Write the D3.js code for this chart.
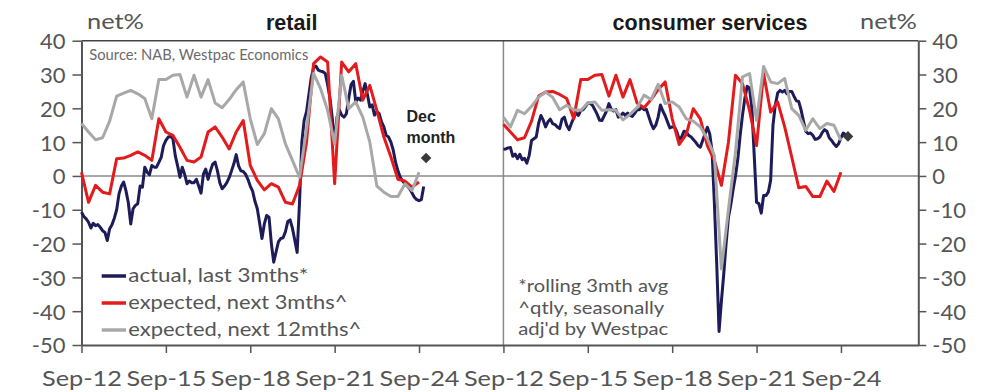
<!DOCTYPE html>
<html>
<head>
<meta charset="utf-8">
<script src="https://cdn.jsdelivr.net/npm/d3@7"></script>
<style>
  html, body { margin: 0; padding: 0; background: #ffffff; }
  svg { display: block; }
  text { font-family: "Lato", "Open Sans", sans-serif; }
</style>
</head>
<body>
<svg id="chart" width="998" height="392"></svg>
<script>
// Panel titles and axis labels
const panelTitles = ["retail", "consumer services"];
const yTicks = [40, 30, 20, 10, 0, -10, -20, -30, -40, -50];
const xTickLabels = ["Sep-12", "Sep-15", "Sep-18", "Sep-21", "Sep-24"];
const legendLabels = ["actual, last 3mths*", "expected, next 3mths^", "expected, next 12mths^"];
const noteLines = ["*rolling 3mth avg", "^qtly, seasonally", "adj'd by Westpac"];

// Retail: monthly actual (3mth avg) from Sep-12, quarterly expectations from Sep-12
const retailActual = [
  -10.7, -12, -12.7, -13.7, -15.4, -14, -14.7, -14.4, -15.2, -16.2, -16.7, -19.1,
  -15.6, -14.4, -12.5, -10, -5.3, -3, -1.8, -4.5, -8, -14.2, -9.7, -8.7,
  -8.2, -3, -3.3, 2.6, 1.1, 0.4, 3.1, 2.6, 2.6, 4, 5.5, 9,
  10.5, 11.5, 11.7, 11, 6, 3, -0.4, 2.6, 0.5, -2.3, -1.5, -2,
  -2, -1, -3, -5.1, 0.5, 2, -1, 1.5, 3.5, 4.1, 1.5, -2,
  -3.8, -3, -2, -0.5, 1.5, 3.6, 6.3, 3, 1.5, 1.3, 0.5, -1,
  -3, -4.5, -7.5, -9.7, -14, -18.5, -14.2, -11.7, -12.2, -20, -25.5, -22.5,
  -19.5, -18.5, -18.3, -16.5, -13.5, -13, -15.5, -19, -22.6, -8, 10, 16.5,
  19, 24, 29, 32, 32.5, 31.3, 31, 30.8, 30.3, 27, 23, 17,
  9.5, 17.4, 19.5, 18, 17.4, 18.4, 23, 27, 28, 21.9, 23, 22.4,
  25, 27.3, 24, 20.4, 21, 18, 19, 18.4, 16, 14.5, 12, 11.5,
  10, 7.6, 4, 1.5, -0.4, -1.5, -2.3, -3, -3.8, -5, -6.3, -7,
  -7.3, -7, -3.1
];
const retailExp3 = [
  1.1, -7.8, -2.8, -4.8, -5.3, 5.1, 5.3, 6.1, 7.1, 6.1, 4.6, 16.9,
  13, 12, 8.5, 4.6, 4.1, 5.6, 13, 14.5, 11.5, 8, 13, 16.4,
  3.1, -1.3, -4.1, -2.3, -3.3, -7.8, -8.3, -2.8, 10, 33.2, 35.2, 33.7,
  -2.3, 33.7, 30.8, 33.2, 22.4, 26.8, 19.4, 11.5, 5.6, -1, -1.5, -3.3,
  -1.8
];
const retailExp12 = [
  15.5, 13, 10.7, 11.3, 16.2, 23.6, 24.5, 25.3, 24.3, 22.9, 16.9, 28.5,
  28.5, 29.8, 30, 23.3, 29.8, 23.3, 28.5, 21.6, 20.2, 22.6, 25.5, 27.8,
  16.9, 9.3, 12.5, 19.9, 16.9, 9.5, 4.6, -0.4, 14, 30.3, 25.8, 19.4,
  9.5, 29.8, 19.9, 21.9, 17.4, 10, -3, -4.8, -6.1, -6.1, -2.3, -4.3,
  1.1
];
const retailDec = 5.3;

// Consumer services
const servActual = [
  7.9, 8, 8.3, 8.4, 5.8, 6.5, 5.1, 6.4, 4.8, 5.2, 3.8, 6.1,
  10.5, 11, 11.5, 15.5, 17.9, 16.5, 14.5, 16, 16.8, 15.5, 15.2, 14.5,
  14, 16.8, 17.4, 15, 13.7, 15.5, 17.2, 18.7, 17.9, 19.3, 19.6, 20.5,
  21.6, 21.5, 20.9, 19.6, 18.2, 16.5, 16.4, 17.8, 19.2, 21.4, 19.8, 19.2,
  19.6, 17.4, 17.8, 18.6, 17.9, 18.6, 18, 17.6, 18.5, 19.6, 19.6, 20.3,
  19.6, 19.7, 17.6, 15.5, 14, 15, 17.4, 21, 19.2, 17.8, 16, 14.2,
  14.5, 14.5, 13, 10.8, 11.5, 13.2, 13, 12, 11.6, 10.8, 10, 9,
  8.5, 10.5, 12.4, 14.4, 12.5, 7.5, -8, -26, -46, -37, -29, -20,
  -12.2, -8.5, -4, 0, 5, 12, 18, 23, 26.5, 26, 20, 6,
  -7.8, -8.2, -11, -5.8, -5.8, -4.8, -1.3, 15, 21, 24.5, 25.3, 24.8,
  25.3, 24.3, 25, 25, 23.5, 22.2, 22, 19.5, 16.2, 13.2, 12.5, 12.7,
  12, 10.8, 11, 11.5, 12.8, 13.7, 13.2, 11.3, 10.5, 9.5, 8.7, 9.5,
  11.3, 12.7, 12.2
];
const servExp3 = [
  15.3, 13, 10.7, 11.3, 16.2, 23.6, 24.8, 25, 24.1, 22.9, 16.9, 28.5,
  28.5, 29.8, 30, 23.6, 29.8, 23.3, 28.5, 21.6, 20.2, 22.6, 25.5, 27.8,
  16.9, 9.3, 12.3, 19.9, 16.9, 9, 4.6, -2.8, 10, 29.8, 27.3, 19.4,
  9, 30.3, 18.9, 21.9, 14.5, 5.6, -3.5, -3.1, -6.1, -6.1, -1.5, -4.6,
  1.1
];
const servExp12 = [
  17.4, 14.5, 19.4, 18.4, 20.6, 23.3, 24.8, 23.3, 19.6, 20.9, 19.6, 19.4,
  21.6, 21.9, 19.4, 19.6, 19.4, 16.6, 18.2, 20.2, 23.9, 22.6, 27.1, 21.4,
  21.9, 20.4, 16.9, 16.2, 14.5, 11, 6, -27.5, -10, 7, 29.3, 30.3,
  16.4, 32.4, 27.8, 27.3, 28.8, 19.9, 17.9, 13.5, 16.9, 14, 15.5, 15,
  10.5
];
const servDec = 11.7;

// Layout: both panels share one month-index axis; the second panel starts 180 months in
const PANEL_OFFSET = 180;
const TOTAL_MONTHS = 357;
const DEC_INDEX = 147;

const colNavy = "#1d1c58";
const colRed = "#e31b1d";
const colGray = "#a8a8a8";
const textCol = "#555555";

const svg = d3.select("#chart");
const x = d3.scaleLinear().domain([0, TOTAL_MONTHS]).range([81.5, 918.3]);
const y = d3.scaleLinear().domain([-50, 40]).range([345, 40.7]);

// Zero line and panel divider
svg.append("line")
  .attr("x1", x(0)).attr("x2", x(TOTAL_MONTHS))
  .attr("y1", y(0)).attr("y2", y(0))
  .attr("stroke", "#8a8a8a").attr("stroke-width", 1.5);
svg.append("line")
  .attr("x1", x(PANEL_OFFSET)).attr("x2", x(PANEL_OFFSET))
  .attr("y1", y(40)).attr("y2", y(-50))
  .attr("stroke", "#8a8a8a").attr("stroke-width", 1.5);

// Top frame
svg.append("line")
  .attr("x1", x(0)).attr("x2", x(TOTAL_MONTHS))
  .attr("y1", y(40)).attr("y2", y(40))
  .attr("stroke", "#444").attr("stroke-width", 1.5);

// Axes
const fmt = d => String(d);
const leftAxis = svg.append("g")
  .attr("transform", `translate(${x(0)},0)`)
  .call(d3.axisLeft(y).tickValues(yTicks).tickFormat(fmt).tickSize(9).tickSizeOuter(0).tickPadding(7));
const rightAxis = svg.append("g")
  .attr("transform", `translate(${x(TOTAL_MONTHS)},0)`)
  .call(d3.axisRight(y).tickValues(yTicks).tickFormat(fmt).tickSize(8).tickSizeOuter(0).tickPadding(6));

const xTickIdx = [];
const xTickText = new Map();
[0, PANEL_OFFSET].forEach(off => {
  xTickLabels.forEach((lab, k) => {
    xTickIdx.push(off + k * 36);
    xTickText.set(off + k * 36, lab);
  });
});
const bottomAxis = svg.append("g")
  .attr("transform", `translate(0,${y(-50)})`)
  .call(d3.axisBottom(x).tickValues(xTickIdx).tickFormat(d => xTickText.get(d) || "")
    .tickSize(8).tickSizeOuter(0));

[leftAxis, rightAxis, bottomAxis].forEach(g => {
  g.select(".domain").attr("stroke", "#555").attr("stroke-width", 2);
  g.selectAll(".tick line").attr("stroke", "#555").attr("stroke-width", 1.5);
  g.selectAll("text")
    .attr("fill", textCol)
    .style("font-family", "Lato, sans-serif")
    .style("font-size", "22px");
});
bottomAxis.selectAll("text")
  .attr("y", 386 - y(-50)).attr("dy", null)
  .attr("textLength", 80).attr("lengthAdjust", "spacingAndGlyphs");
leftAxis.selectAll("text").attr("dy", "0.36em");
rightAxis.selectAll("text").attr("dy", "0.36em");

// Series lines
const line = d3.line().x(d => x(d.i)).y(d => y(d.v)).curve(d3.curveLinear);
const monthly = (arr, off) => arr.map((v, k) => ({ i: off + k, v }));
const quarterly = (arr, off) => arr.map((v, k) => ({ i: off + 3 * k, v }));

const series = [
  { pts: monthly(retailActual, 0), color: colNavy },
  { pts: monthly(servActual, PANEL_OFFSET), color: colNavy },
  { pts: quarterly(retailExp3, 0), color: colRed },
  { pts: quarterly(servExp3, PANEL_OFFSET), color: colRed },
  { pts: quarterly(retailExp12, 0), color: colGray },
  { pts: quarterly(servExp12, PANEL_OFFSET), color: colGray }
];
svg.append("g").selectAll("path")
  .data(series)
  .join("path")
  .attr("d", d => line(d.pts))
  .attr("fill", "none")
  .attr("stroke", d => d.color)
  .attr("stroke-width", 3)
  .attr("stroke-linejoin", "round");

// Latest single-month readings
const decPoints = [
  { i: DEC_INDEX, v: retailDec },
  { i: PANEL_OFFSET + DEC_INDEX, v: servDec }
];
svg.append("g").selectAll("path")
  .data(decPoints)
  .join("path")
  .attr("d", d3.symbol(d3.symbolSquare, 56))
  .attr("transform", d => `translate(${x(d.i)},${y(d.v)}) rotate(45)`)
  .attr("fill", "#3a3a3a");

svg.append("text").attr("x", 406.5).attr("y", 121.7)
  .style("font-family", "'Liberation Sans', Arial, sans-serif")
  .style("font-size", "16px").style("font-weight", "bold").attr("fill", "#222")
  .text("Dec");
svg.append("text").attr("x", 406.5).attr("y", 142.7)
  .style("font-family", "'Liberation Sans', Arial, sans-serif")
  .style("font-size", "16px").style("font-weight", "bold").attr("fill", "#222")
  .text("month");

// Titles and units
svg.selectAll("text.title")
  .data([{ t: panelTitles[0], cx: 291.7 }, { t: panelTitles[1], cx: 710 }])
  .join("text")
  .attr("class", "title")
  .attr("x", d => d.cx).attr("y", 30)
  .attr("text-anchor", "middle")
  .style("font-family", "'Liberation Sans', Arial, sans-serif")
  .style("font-size", "21.5px").style("font-weight", "bold")
  .attr("fill", "#1a1a1a")
  .text(d => d.t);

[87, 860].forEach(xx => {
  svg.append("text").attr("x", xx).attr("y", 29)
    .style("font-size", "22px").attr("fill", textCol)
    .attr("textLength", 57).attr("lengthAdjust", "spacingAndGlyphs")
    .text("net%");
});

svg.append("text").attr("x", 89.3).attr("y", 60)
  .style("font-size", "14.5px").attr("fill", "#6a6a6a")
  .attr("textLength", 219).attr("lengthAdjust", "spacingAndGlyphs")
  .text("Source: NAB, Westpac Economics");

// Legend
const legendColors = [colNavy, colRed, colGray];
const legendWidths = [180, 219, 233];
const legend = svg.append("g");
legendLabels.forEach((lab, k) => {
  const yy = 276 + k * 27;
  legend.append("line")
    .attr("x1", 101.7).attr("x2", 126).attr("y1", yy).attr("y2", yy)
    .attr("stroke", legendColors[k]).attr("stroke-width", 3.5);
  legend.append("text")
    .attr("x", 128.3).attr("y", yy + 5.5)
    .style("font-size", "20px").attr("fill", textCol)
    .attr("textLength", legendWidths[k]).attr("lengthAdjust", "spacingAndGlyphs")
    .text(lab);
});

// Footnotes
const noteWidths = [150, 146, 150];
noteLines.forEach((t, k) => {
  svg.append("text")
    .attr("x", 518.3).attr("y", 291.7 + k * 21.8)
    .style("font-size", "17.5px").attr("fill", textCol)
    .attr("textLength", noteWidths[k]).attr("lengthAdjust", "spacingAndGlyphs")
    .text(t);
});
</script>
</body>
</html>
